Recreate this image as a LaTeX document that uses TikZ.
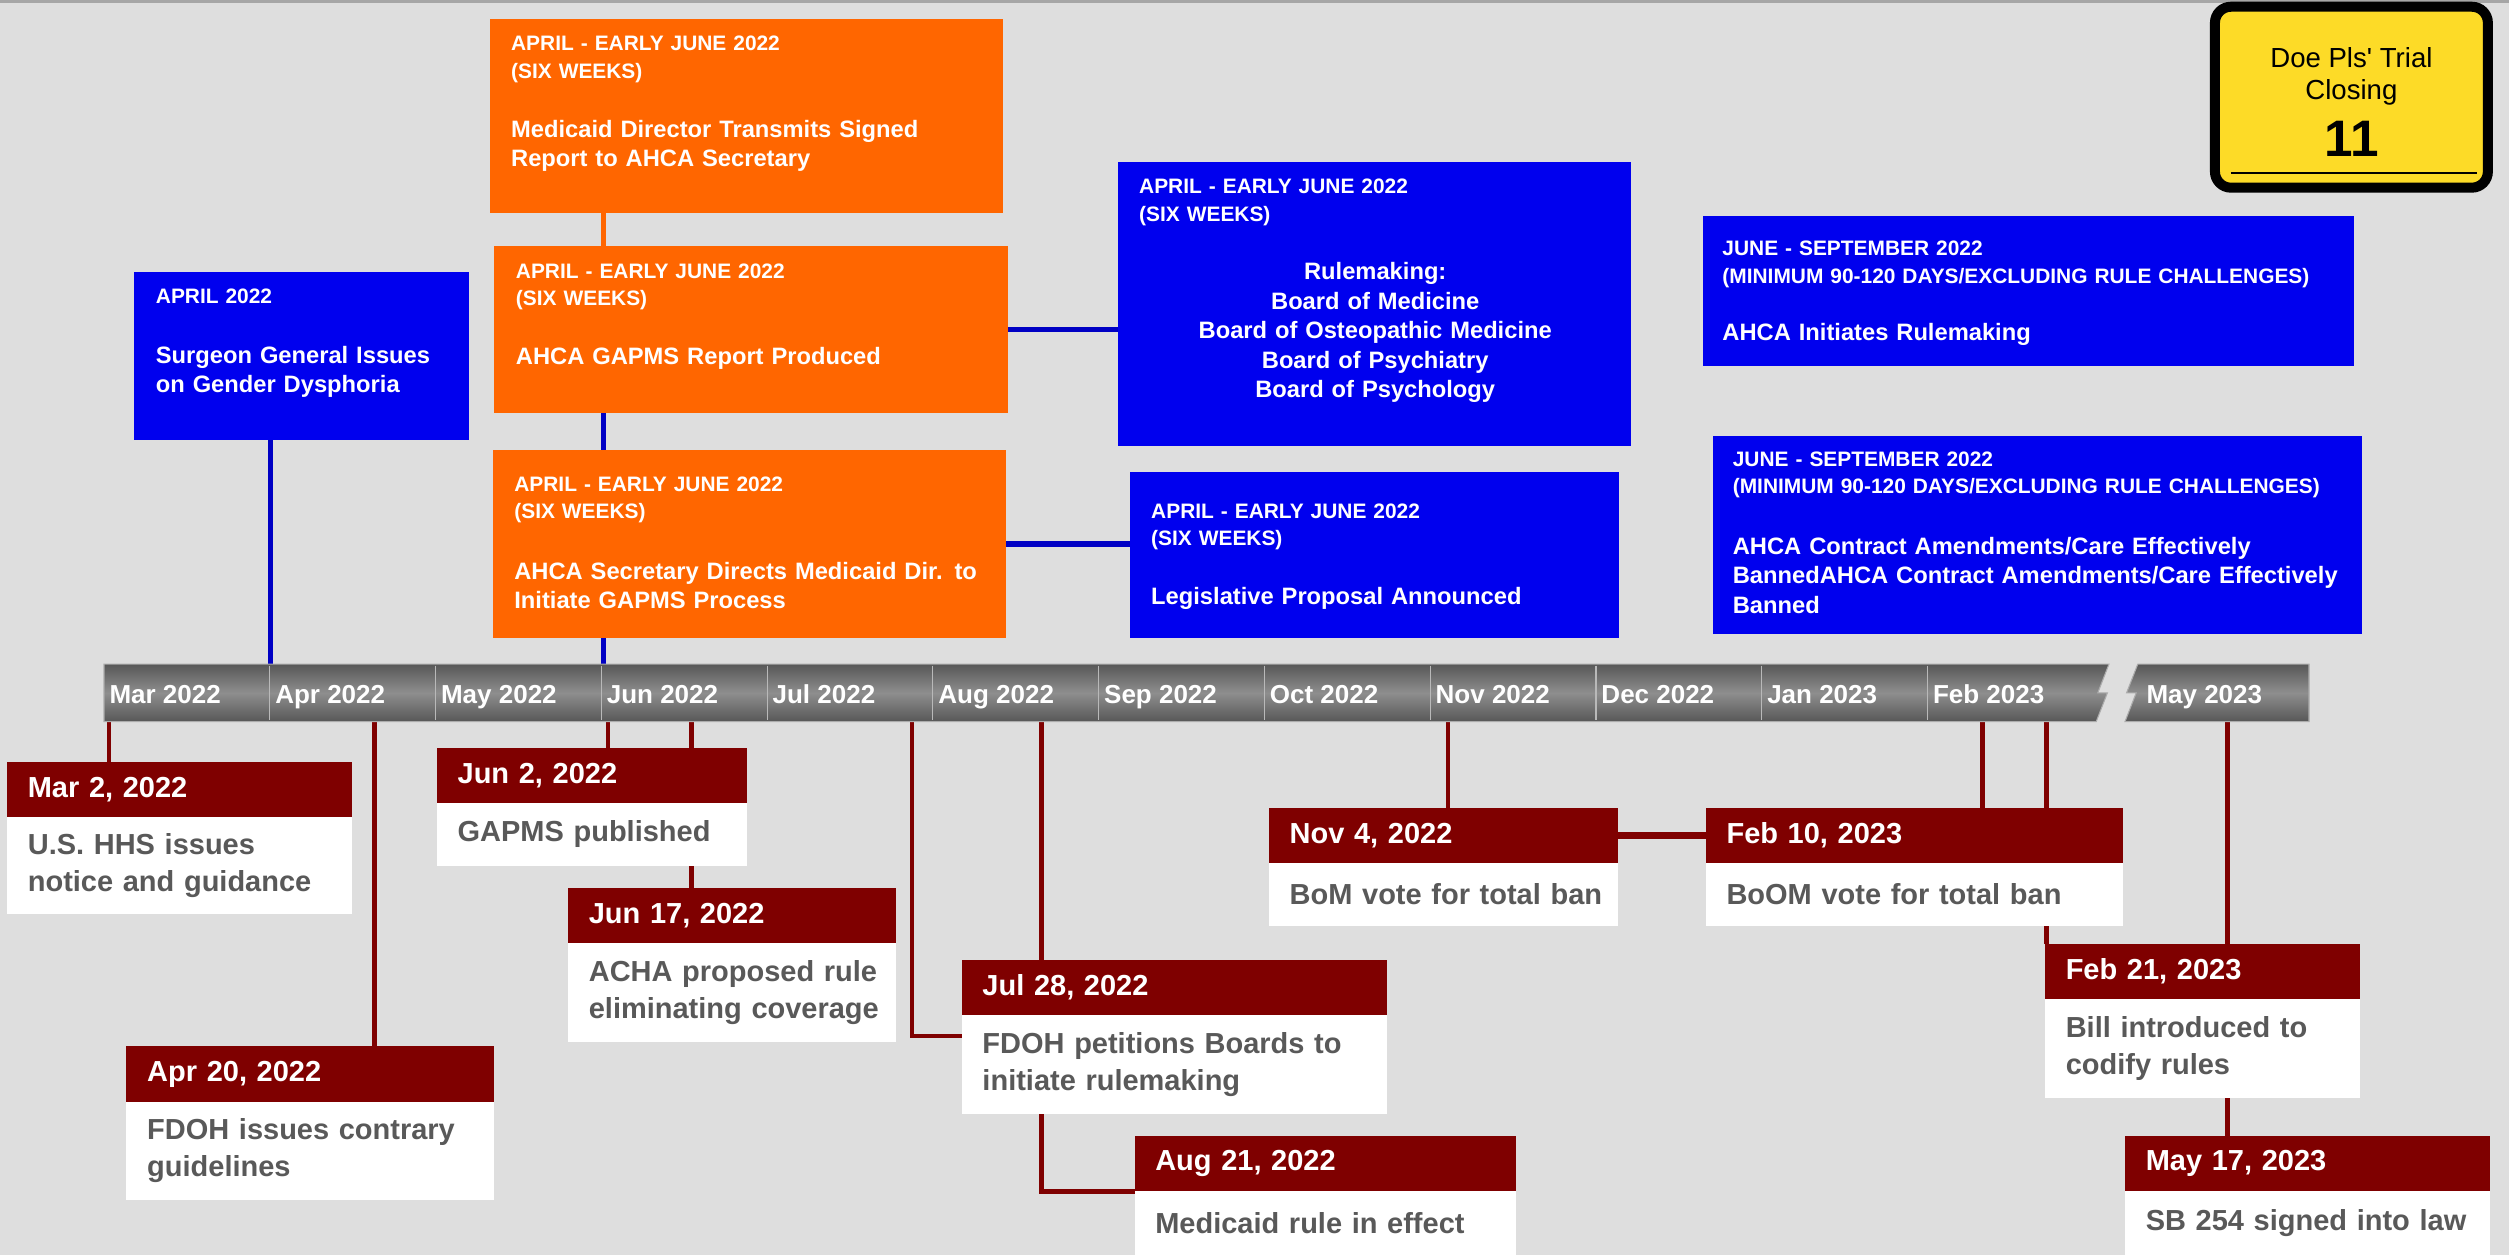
\documentclass[tikz,border=0pt]{standalone}
\usepackage{fontspec}
\setmainfont{Liberation Sans}
\usetikzlibrary{positioning}

\definecolor{canvas}{HTML}{DEDEDE}
\definecolor{dred}{HTML}{7F0000}
\definecolor{cardgray}{HTML}{595959}
\definecolor{ahcaorange}{HTML}{FF6600}
\definecolor{panelblue}{HTML}{0000EE}
\definecolor{wireblue}{HTML}{0000C4}
\definecolor{tagyellow}{HTML}{FDDB27}
\definecolor{bardark}{HTML}{575757}
\definecolor{barlight}{HTML}{8E8E8E}

\pgfdeclarelayer{canvaslayer}
\pgfdeclarelayer{wires}
\pgfsetlayers{canvaslayer,wires,main}

\newcommand\datefont{\fontsize{8.25}{10.5}\selectfont\bfseries}

\tikzset{
  boxsize/.style 2 args={minimum width=#1*0.016cm, minimum height=#2*0.016cm},
  textw/.style={text width=#1*0.016cm},
  panel/.style={anchor=north west, inner sep=0, outer sep=0},
  orangepanel/.style={panel, fill=ahcaorange},
  bluepanel/.style={panel, fill=panelblue},
  paneltext/.style={anchor=north west, inner sep=0, align=left, text=white},
  panelhead/.style={paneltext, font=\fontsize{5.95}{7.9}\selectfont\bfseries},
  panelbody/.style={paneltext, font=\fontsize{6.75}{8.4}\selectfont\bfseries},
  datehead/.style={anchor=north west, inner sep=0, outer sep=0, align=left, fill=dred, text=white,
    font=\datefont, execute at begin node={\leftskip=0.208cm\relax}},
  datebody/.style={datehead, fill=white, text=cardgray},
  month/.style={anchor=base west, inner sep=0, text=white, font=\fontsize{7.4}{8}\selectfont\bfseries},
  barpart/.style={draw=gray!65, line width=0.3pt, top color=bardark, bottom color=bardark, middle color=barlight},
  redwire/.style={draw=dred, line width=1.3pt},
  bluewire/.style={draw=wireblue, line width=1.5pt},
  orangewire/.style={draw=ahcaorange, line width=1.4pt},
  tag/.style={draw=black, line width=2.85pt, rounded corners=0.16cm, fill=tagyellow, inner sep=0},
  tagtext/.style={anchor=base, inner sep=0, font=\fontsize{7.85}{9}\selectfont},
}

\begin{document}
\begin{tikzpicture}[x=0.016cm, y=-0.016cm]
 \useasboundingbox (0,0) rectangle (1568,784);
 \begin{pgfonlayer}{canvaslayer}
  \fill[canvas] (0,0) rectangle (1568,784);
  \draw[gray!70, line width=0.03cm] (0,1) -- (1568,1);
 \end{pgfonlayer}

 % time bar
 \path[barpart] (65,415) -- (1318,415) -- (1311,433) -- (1317,433) -- (1310,451) -- (65,451) -- cycle;
 \path[barpart] (1336,415) -- (1443,415) -- (1443,451) -- (1328,451) -- (1335,433) -- (1329,433) -- cycle;
 \foreach \i in {1,...,11}
   \draw[gray!55, line width=0.3pt] (65+103.6*\i,416) -- (65+103.6*\i,450);
 \foreach \m [count=\i from 0] in {Mar 2022,Apr 2022,May 2022,Jun 2022,Jul 2022,Aug 2022,Sep 2022,Oct 2022,Nov 2022,Dec 2022,Jan 2023,Feb 2023}
   \node[month] (m\i) at (68+103.6*\i,439.5) {\m};
 \node[month] (m12) at (1341,439.5) {May 2023};

 \coordinate (d-apr) at (169,415);
 \coordinate (d-jun) at (377,415);
 \coordinate (d-mar2) at (68,451);
 \coordinate (d-apr20) at (234,451);
 \coordinate (d-jun2) at (380,451);
 \coordinate (d-jun17) at (432,451);
 \coordinate (d-jul28) at (570,451);
 \coordinate (d-aug21) at (651,451);
 \coordinate (d-nov4) at (905,451);
 \coordinate (d-feb10) at (1239,451);
 \coordinate (d-feb21) at (1279,451);
 \coordinate (d-may17) at (1392,451);

 % panels above the bar
 \node[orangepanel, boxsize={321}{121}] (transmits) at (306,12) {};
 \node[orangepanel, boxsize={321}{104}] (report) at (309,154) {};
 \node[orangepanel, boxsize={321}{118}] (directs) at (308,281) {};
 \node[bluepanel, boxsize={209}{105}] (surgeon) at (84,170) {};
 \node[bluepanel, boxsize={321}{178}] (rulemaking) at (698.5,101) {};
 \node[bluepanel, boxsize={306}{104}] (legislative) at (706,295) {};
 \node[bluepanel, boxsize={407}{94}] (initiates) at (1064,135) {};
 \node[bluepanel, boxsize={405.5}{123.5}] (amend) at (1070.5,272.5) {};

 \node[panelhead, textw=311] (transmits-h) at ([shift={(13,10.3)}]transmits.north west) {APRIL - EARLY JUNE 2022\\(SIX WEEKS)};
 \node[panelbody, textw=311] (transmits-b) at ([shift={(13,62.7)}]transmits.north west) {Medicaid Director Transmits Signed\\Report to AHCA Secretary};
 \node[panelhead, textw=311] (report-h) at ([shift={(13,10.3)}]report.north west) {APRIL - EARLY JUNE 2022\\(SIX WEEKS)};
 \node[panelbody, textw=311] (report-b) at ([shift={(13,62.7)}]report.north west) {AHCA GAPMS Report Produced};
 \node[panelhead, textw=311] (directs-h) at ([shift={(13,16.3)}]directs.north west) {APRIL - EARLY JUNE 2022\\(SIX WEEKS)};
 \node[panelbody, textw=311] (directs-b) at ([shift={(13,69.7)}]directs.north west) {AHCA Secretary Directs Medicaid Dir. to\\Initiate GAPMS Process};
 \node[panelhead, textw=199] (surgeon-h) at ([shift={(13,10.3)}]surgeon.north west) {APRIL 2022};
 \node[panelbody, textw=199] (surgeon-b) at ([shift={(13,45.7)}]surgeon.north west) {Surgeon General Issues\\on Gender Dysphoria};
 \node[panelhead, textw=295] (rulemaking-h) at ([shift={(13,10.3)}]rulemaking.north west) {APRIL - EARLY JUNE 2022\\(SIX WEEKS)};
 \node[panelbody, textw=295, align=center] (rulemaking-b) at ([shift={(13,62.7)}]rulemaking.north west) {Rulemaking:\\Board of Medicine\\Board of Osteopathic Medicine\\Board of Psychiatry\\Board of Psychology};
 \node[panelhead, textw=296] (legislative-h) at ([shift={(13,19.3)}]legislative.north west) {APRIL - EARLY JUNE 2022\\(SIX WEEKS)};
 \node[panelbody, textw=296] (legislative-b) at ([shift={(13,71.7)}]legislative.north west) {Legislative Proposal Announced};
 \node[panelhead, textw=397] (initiates-h) at ([shift={(12,15.3)}]initiates.north west) {JUNE - SEPTEMBER 2022\\(MINIMUM 90-120 DAYS/EXCLUDING RULE CHALLENGES)};
 \node[panelbody, textw=397] (initiates-b) at ([shift={(12,66.7)}]initiates.north west) {AHCA Initiates Rulemaking};
 \node[panelhead, textw=395] (amend-h) at ([shift={(12,9.3)}]amend.north west) {JUNE - SEPTEMBER 2022\\(MINIMUM 90-120 DAYS/EXCLUDING RULE CHALLENGES)};
 \node[panelbody, textw=395] (amend-b) at ([shift={(12,62.7)}]amend.north west) {AHCA Contract Amendments/Care Effectively\\BannedAHCA Contract Amendments/Care Effectively\\Banned};

 % date cards below the bar
 \node[datehead, boxsize={215.6}{34.5}, textw=215.6] (mar2-head) at (4.4,476) {Mar 2, 2022};
 \node[datebody, boxsize={215.6}{61}, textw=215.6] (mar2-body) at (mar2-head.south west) {U.S. HHS issues\\notice and guidance};
 \node[datehead, boxsize={230}{34.5}, textw=230] (apr20-head) at (79,654) {Apr 20, 2022};
 \node[datebody, boxsize={230}{61.5}, textw=230] (apr20-body) at (apr20-head.south west) {FDOH issues contrary\\guidelines};
 \node[datehead, boxsize={194}{34.5}, textw=194] (jun2-head) at (273,467.5) {Jun 2, 2022};
 \node[datebody, boxsize={194}{39}, textw=194] (jun2-body) at (jun2-head.south west) {GAPMS published};
 \node[datehead, boxsize={205}{34.5}, textw=205] (jun17-head) at (355,555) {Jun 17, 2022};
 \node[datebody, boxsize={205}{61.5}, textw=205] (jun17-body) at (jun17-head.south west) {ACHA proposed rule\\eliminating coverage};
 \node[datehead, boxsize={266}{34.5}, textw=266] (jul28-head) at (601,600) {Jul 28, 2022};
 \node[datebody, boxsize={266}{61.5}, textw=266] (jul28-body) at (jul28-head.south west) {FDOH petitions Boards to\\initiate rulemaking};
 \node[datehead, boxsize={238.5}{34.5}, textw=238.5] (aug21-head) at (709,710) {Aug 21, 2022};
 \node[datebody, boxsize={238.5}{39.5}, textw=238.5] (aug21-body) at (aug21-head.south west) {Medicaid rule in effect};
 \node[datehead, boxsize={218}{34.5}, textw=218] (nov4-head) at (793,505) {Nov 4, 2022};
 \node[datebody, boxsize={218}{39}, textw=218] (nov4-body) at (nov4-head.south west) {BoM vote for total ban};
 \node[datehead, boxsize={261}{34.5}, textw=261] (feb10-head) at (1066,505) {Feb 10, 2023};
 \node[datebody, boxsize={261}{39}, textw=261] (feb10-body) at (feb10-head.south west) {BoOM vote for total ban};
 \node[datehead, boxsize={197}{34.5}, textw=197] (feb21-head) at (1278,590) {Feb 21, 2023};
 \node[datebody, boxsize={197}{61.5}, textw=197] (feb21-body) at (feb21-head.south west) {Bill introduced to\\codify rules};
 \node[datehead, boxsize={228}{34.5}, textw=228] (may17-head) at (1328,710) {May 17, 2023};
 \node[datebody, boxsize={228}{39.5}, textw=228] (may17-body) at (may17-head.south west) {SB 254 signed into law};

 % trial tag
 \node[tag, minimum width=2.73cm, minimum height=1.81cm] (tag) at (1469.5,60.75) {};
 \node[tagtext] (tag-a) at (1469.5,42.2) {Doe Pls\textquotesingle{} Trial};
 \node[tagtext] (tag-b) at (1469.5,62.2) {Closing};
 \node[tagtext, font=\fontsize{14.6}{16}\selectfont\bfseries] (tag-c) at (1469.5,97.6) {11};
 \draw[line width=0.5pt] ([shift={(13,-12.5)}]tag.south west) -- ([shift={(-10,-12.5)}]tag.south east);

 \begin{pgfonlayer}{wires}
  \draw[bluewire] (d-apr) -- (d-apr |- surgeon.south);
  \draw[bluewire] (d-jun) -- (d-jun |- directs.south);
  \draw[bluewire] (directs.north -| d-jun) -- (d-jun |- report.south);
  \draw[orangewire] (report.north -| d-jun) -- (d-jun |- transmits.south);
  \draw[bluewire] (report.east) -- (report.east -| rulemaking.west);
  \draw[bluewire] (directs.east) -- (directs.east -| legislative.west);
  \draw[redwire] (d-mar2) -- (d-mar2 |- mar2-head.north);
  \draw[redwire] (d-apr20) -- (d-apr20 |- apr20-head.north);
  \draw[redwire] (d-jun2) -- (d-jun2 |- jun2-head.north);
  \draw[redwire] (d-jun17) -- (d-jun17 |- jun17-head.north);
  \draw[redwire] (d-jul28) |- ([yshift=-0.208cm]jul28-body.north west);
  \draw[redwire] (d-aug21) |- (aug21-body.north west);
  \draw[redwire] (d-nov4) -- (d-nov4 |- nov4-head.north);
  \draw[redwire] (d-feb10) -- (d-feb10 |- feb10-head.north);
  \draw[redwire] (d-feb21) -- (d-feb21 |- feb21-head.north);
  \draw[redwire] (d-may17) -- (d-may17 |- may17-head.north);
  \draw[redwire, line width=2pt] (nov4-head.east) -- (feb10-head.west);
 \end{pgfonlayer}
\end{tikzpicture}
\end{document}
